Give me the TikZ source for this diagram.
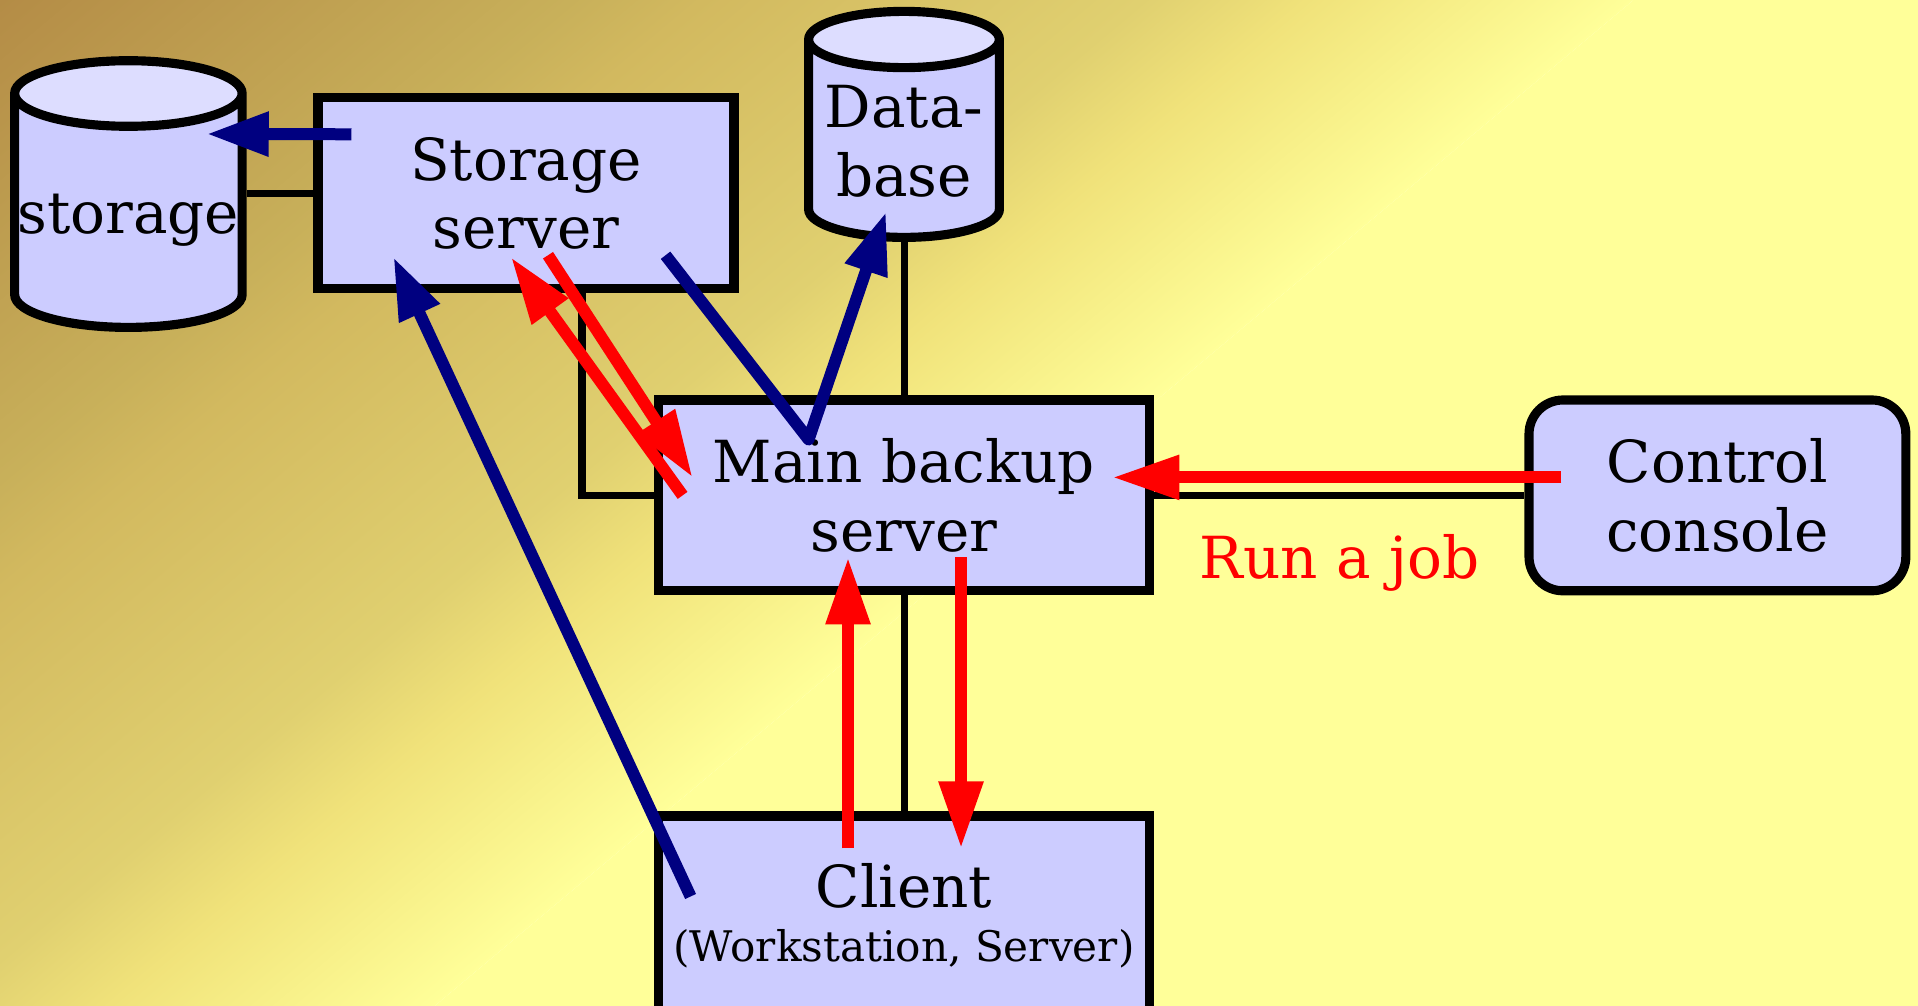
\documentclass[tikz,border=0pt]{standalone}
\usepackage{fontspec}
\setmainfont{DejaVu Serif}
\usetikzlibrary{shapes.geometric,arrows.meta}

\definecolor{boxblue}{HTML}{CCCCFF}
\definecolor{topblue}{HTML}{DDDDFF}
\definecolor{navyflow}{HTML}{000080}
\definecolor{bgA}{RGB}{180,140,70}
\definecolor{bgB}{RGB}{200,176,90}
\definecolor{bgC}{RGB}{210,185,95}
\definecolor{bgD}{RGB}{224,208,112}
\definecolor{bgE}{RGB}{240,226,122}
\definecolor{bgF}{RGB}{255,255,153}
\pgfdeclarehorizontalshading{bgshade}{100bp}{color(0bp)=(bgA); color(25bp)=(bgA); color(42.5bp)=(bgB); color(46.5bp)=(bgC); color(60bp)=(bgD); color(65bp)=(bgE); color(75bp)=(bgF); color(100bp)=(bgF)}

\begin{document}
\begin{tikzpicture}[
		box/.style={draw, line width=2.6pt, fill=boxblue, minimum height=1.908cm, align=center, font=\fontsize{16.5}{19.5}\selectfont},
		can/.style={cylinder, shape border rotate=90, draw, line width=2.6pt, cylinder uses custom fill, cylinder body fill=boxblue, cylinder end fill=topblue},
		lbl/.style={align=center, font=\fontsize{16.5}{19.5}\selectfont},
		link/.style={line width=2pt},
		blueflow/.style={navyflow, line width=0.12cm, -{Triangle[length=0.62cm, width=0.42cm]}},
		redflow/.style={red, line width=0.12cm, -{Triangle[length=0.67cm, width=0.42cm]}}
	]
	\def\pagew{19.18}
	\def\pageh{10.05}

	\useasboundingbox (0,0) rectangle (\pagew,\pageh) ;
	\begin{scope}
		\clip (0,0) rectangle (\pagew,\pageh) ;
		\begin{scope}[transform canvas={rotate around={-50:(0,\pageh)}}]
			\shade[shading=bgshade] (0,2) rectangle (10.5,26) ;
			\fill[bgF] (10.5,2) rectangle (30,26) ;
			\fill[bgA] (-10,2) rectangle (0,26) ;
		\end{scope}
	\end{scope}

	\node[can, aspect=2.8, minimum width=2.275cm, minimum height=2.667cm] (storage) at (1.284,7.85) {} ;
	\node[lbl] (storage-txt) at (storage.center) {storage} ;
	\node[can, aspect=2.4, minimum width=1.908cm, minimum height=2.26cm] (db) at (9.04,8.575) {} ;
	\node[lbl] (db-txt) at ([yshift=0.6mm]db.center) {Data-\\base} ;

	\node[box, minimum width=4.159cm] (sserver) at (5.26,8.117) {Storage\\server} ;
	\node[box, minimum width=4.917cm] (main) at (9.04,5.096) {Main backup\\server} ;
	\node[box, minimum width=3.768cm, rounded corners=0.34cm] (console) at (17.174,5.096) {Control\\console} ;
	\node[box, minimum width=4.917cm, minimum height=1.99cm] (client) at (9.04,0.895) {Client\\[-4pt]{\fontsize{12}{14}\selectfont (Workstation, Server)}} ;
	\node[lbl, red] (runjob) at (13.394,4.423) {Run a job} ;

	\draw[link] (storage.east |- sserver.west) -- (sserver.west) ;
	\draw[link] (db.south) -- (main.north) ;
	\draw[link] (main.west) -| ([xshift=5.6mm]sserver.south) ;
	\draw[link] (main.east) -- (console.west) ;
	\draw[link] (main.south) -- (client.north) ;

	\draw[blueflow] ([shift={(0.38,0.59)}]sserver.west) -- ([shift={(-0.4,0.86)}]storage.east) ;
	\draw[blueflow] ([shift={(0.37,0.19)}]client.west) -- ([shift={(0.8,0.36)}]sserver.south west) ;
	\draw[blueflow, line join=round] ([shift={(-0.73,0.38)}]sserver.south east) -- ([shift={(1.55,-0.44)}]main.north west) -- ([shift={(-0.18,0.3)}]db.south) ;

	\draw[redflow] ([shift={(0.22,0.38)}]sserver.south) -- ([shift={(0.39,0.18)}]main.west) ;
	\draw[redflow] ([shift={(0.29,0.0)}]main.west) -- ([shift={(-0.15,0.36)}]sserver.south) ;
	\draw[redflow] ([shift={(0.37,0.18)}]console.west) -- ([shift={(-0.42,0.18)}]main.east) ;
	\draw[redflow] ([shift={(-0.56,-0.37)}]client.north) -- ([shift={(-0.56,0.38)}]main.south) ;
	\draw[redflow] ([shift={(0.57,0.38)}]main.south) -- ([shift={(0.57,-0.37)}]client.north) ;
\end{tikzpicture}
\end{document}
